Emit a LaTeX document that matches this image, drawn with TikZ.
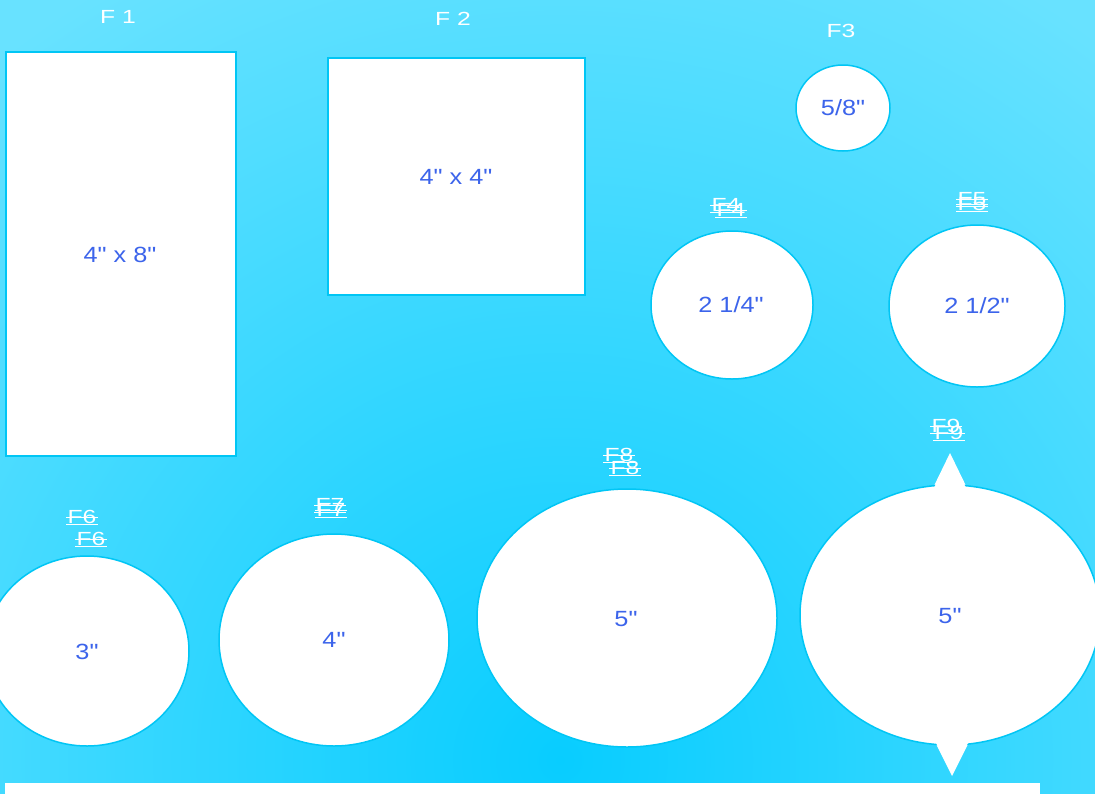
\documentclass[tikz,border=0pt]{standalone}
\usepackage{fontspec}
\setmainfont{Liberation Sans}
\usepackage{xcolor}
\usepackage{tikz}

\definecolor{bgin}{RGB}{8,205,255}
\definecolor{bgout}{RGB}{104,226,255}
\definecolor{rim}{RGB}{0,198,245}
\definecolor{sizeblue}{RGB}{60,100,235}
\newcommand{\inch}{\textquotedbl}

\begin{document}
\begin{tikzpicture}[x=1pt,y=-1pt,
  tile/.style={draw=rim,fill=white,line width=1.5pt},
  size/.style={text=sizeblue,font=\fontsize{22}{24}\selectfont,xscale=1.15},
  title/.style={text=white,font=\fontsize{19}{21}\selectfont,xscale=1.3,inner sep=1pt},
  strike/.style={white,line width=1pt}]
  \useasboundingbox (0,0) rectangle (1095,793);

  % Background shading
  \begin{scope}
    \clip (0,0) rectangle (1095,793);
    \fill[bgout] (0,0) rectangle (1095,793);
    \shade[inner color=bgin,outer color=bgout] (560,760) circle (900);
  \end{scope}

  % Strip along the bottom
  \fill[white] (5,783) rectangle (1040,800);

  % Rectangular frames
  \draw[tile] (6,52) rectangle (236,456);
  \node[size] (s1) at (120,255) {4\inch{} x 8\inch};
  \node[title] (t1) at (118,17) {F 1};

  \draw[tile] (328,58) rectangle (585,295);
  \node[size] (s2) at (456,177) {4\inch{} x 4\inch};
  \node[title] (t2) at (453,19) {F 2};

  % Round frames (top row)
  \draw[tile] (843,108) ellipse (47 and 43);
  \node[size] (s3) at (843,108) {5/8\inch};
  \node[title] (t3) at (841,31) {F3};

  \draw[tile] (732,305) ellipse (81 and 74);
  \node[size] (s4) at (731,305) {2 1/4\inch};
  \node[title] (t4a) at (726,205) {F4};
  \node[title] (t4b) at (731,210) {F4};

  \draw[tile] (977,306) ellipse (88 and 81);
  \node[size] (s5) at (977,306) {2 1/2\inch};
  \node[title] (t5a) at (972,199) {F5};
  \node[title] (t5b) at (972,204) {F5};

  % Round frames (bottom row)
  \draw[tile] (87,651) ellipse (102 and 95);
  \node[size] (s6) at (87,652) {3\inch};
  \node[title] (t6a) at (82,517) {F6};
  \node[title] (t6b) at (91,539) {F6};

  \draw[tile] (334,640) ellipse (115 and 106);
  \node[size] (s7) at (334,640) {4\inch};
  \node[title] (t7a) at (330,505) {F7};
  \node[title] (t7b) at (331,510) {F7};

  \draw[tile] (627,618) ellipse (150 and 129);
  \node[size] (s8) at (626,619) {5\inch};
  \node[title] (t8a) at (619,455) {F8};
  \node[title] (t8b) at (625,468) {F8};

  % Last frame with its two points
  \fill[white] (950,453) -- (968,490) -- (932,490) -- cycle;
  \fill[white] (952,776) -- (970,740) -- (934,740) -- cycle;
  \draw[tile] (950,615) ellipse (150 and 130);
  \fill[white] (950,455) -- (966,488) -- (934,488) -- cycle;
  \fill[white] (952,774) -- (968,743) -- (936,743) -- cycle;
  \node[size] (s9) at (950,616) {5\inch};
  \node[title] (t9a) at (946,426) {F9};
  \node[title] (t9b) at (949,433) {F9};

  % Struck and underlined titles
  \foreach \t in {t4a,t4b,t5a,t5b,t6a,t6b,t7a,t7b,t8a,t8b,t9a,t9b} {
    \draw[strike] (\t.west) -- (\t.east);
    \draw[strike] (\t.south west) -- (\t.south east);
  }
\end{tikzpicture}
\end{document}
